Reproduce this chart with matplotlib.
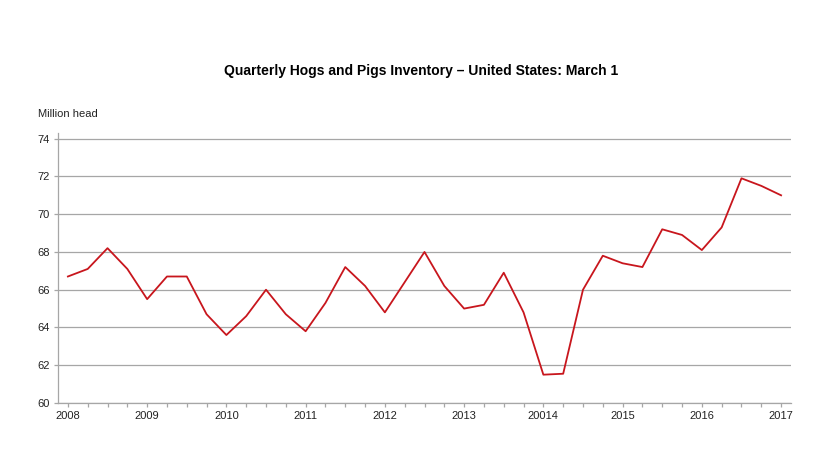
import matplotlib
matplotlib.use("Agg")
import matplotlib.pyplot as plt
import numpy as np

plt.rcParams['font.family'] = ['Liberation Sans', 'DejaVu Sans']

title = "Quarterly Hogs and Pigs Inventory \u2013 United States: March 1"
ylabel = "Million head"
year_labels = ["2008", "2009", "2010", "2011", "2012", "2013", "20014", "2015", "2016", "2017"]
values = [
    66.7, 67.1, 68.2, 67.1,
    65.5, 66.7, 66.7, 64.7,
    63.6, 64.6, 66.0, 64.7,
    63.8, 65.3, 67.2, 66.2,
    64.8, 66.4, 68.0, 66.2,
    65.0, 65.2, 66.9, 64.8,
    61.5, 61.55, 66.0, 67.8,
    67.4, 67.2, 69.2, 68.9,
    68.1, 69.3, 71.9, 71.5,
    71.0,
]
yticks = [60, 62, 64, 66, 68, 70, 72, 74]

fig = plt.figure(figsize=(8.2, 4.61), dpi=100)
ax = fig.add_axes([58/820, 58/461, (791-58)/820, (328-58)/461])

x = np.arange(len(values))
ax.plot(x, values, color='#c8161d', linewidth=1.3, zorder=3)

ax.set_xlim(-0.5, len(values) - 0.5)
ax.set_ylim(60, 74.3)
ax.set_yticks(yticks)
ax.set_yticklabels([str(v) for v in yticks])
ax.set_xticks(np.arange(0, len(values), 4))
ax.set_xticklabels(year_labels)
ax.set_xticks(x, minor=True)

ax.grid(axis='y', color='#a6a6a6', linewidth=0.9)
ax.set_axisbelow(True)
for s in ['top', 'right']:
    ax.spines[s].set_visible(False)
for s in ['left', 'bottom']:
    ax.spines[s].set_color('#a6a6a6')
    ax.spines[s].set_linewidth(0.9)

ax.tick_params(axis='both', which='both', direction='out', length=3, width=0.9,
               color='#a6a6a6', labelsize=8, labelcolor='#222222', pad=3)
ax.tick_params(axis='x', which='minor', length=3)

fig.text(38/820, 1 - 114/461, ylabel, fontsize=8, ha='left', va='center', color='#222222')
fig.text(421/820, 1 - 71/461, title, fontsize=10, fontweight='bold', ha='center', va='center', color='#000000')

fig.savefig("out.png", dpi=100)
